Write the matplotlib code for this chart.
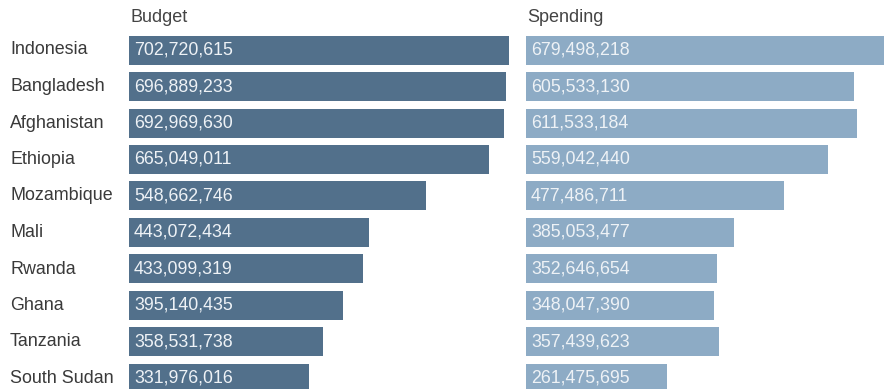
import matplotlib
matplotlib.use("Agg")
import matplotlib.pyplot as plt

countries = ["Indonesia", "Bangladesh", "Afghanistan", "Ethiopia", "Mozambique",
             "Mali", "Rwanda", "Ghana", "Tanzania", "South Sudan"]
budget = [702720615, 696889233, 692969630, 665049011, 548662746,
          443072434, 433099319, 395140435, 358531738, 331976016]
spending = [679498218, 605533130, 611533184, 559042440, 477486711,
            385053477, 352646654, 348047390, 357439623, 261475695]
titles = ["Budget", "Spending"]

W, H = 884, 389
fig = plt.figure(figsize=(W / 100, H / 100), dpi=100)
plt.rcParams['font.family'] = ['Liberation Sans', 'DejaVu Sans']

scale = 0.541 / 1e6  # px per unit
pitch = 36.5
row0 = 50.0
top_px, bot_px = 32, 389
ylim = ((bot_px - row0) / pitch, (top_px - row0) / pitch)

panels = [(129, 510, budget, "#52708b", titles[0]),
          (526, 884, spending, "#8dabc5", titles[1])]

for left, right, vals, color, title in panels:
    ax = fig.add_axes([left / W, 1 - bot_px / H, (right - left) / W, (bot_px - top_px) / H])
    ax.set_xlim(0, (right - left) / scale)
    ax.set_ylim(*ylim)
    ypos = list(range(len(countries)))
    ax.barh(ypos, vals, height=29 / pitch, color=color)
    for y, v in zip(ypos, vals):
        ax.text(5 / scale, y, f"{v:,}", va="center", ha="left",
                color="#eef2f6", fontsize=12.8)
    ax.axis("off")
    fig.text((left + 1) / W, 1 - 17 / H, title, ha="left", va="center",
             fontsize=13, color="#444444")

for i, c in enumerate(countries):
    fig.text(10 / W, 1 - (row0 + pitch * i) / H, c, ha="left", va="center",
             fontsize=12.9, color="#3a3a3a")

fig.savefig("out.png", dpi=100)
